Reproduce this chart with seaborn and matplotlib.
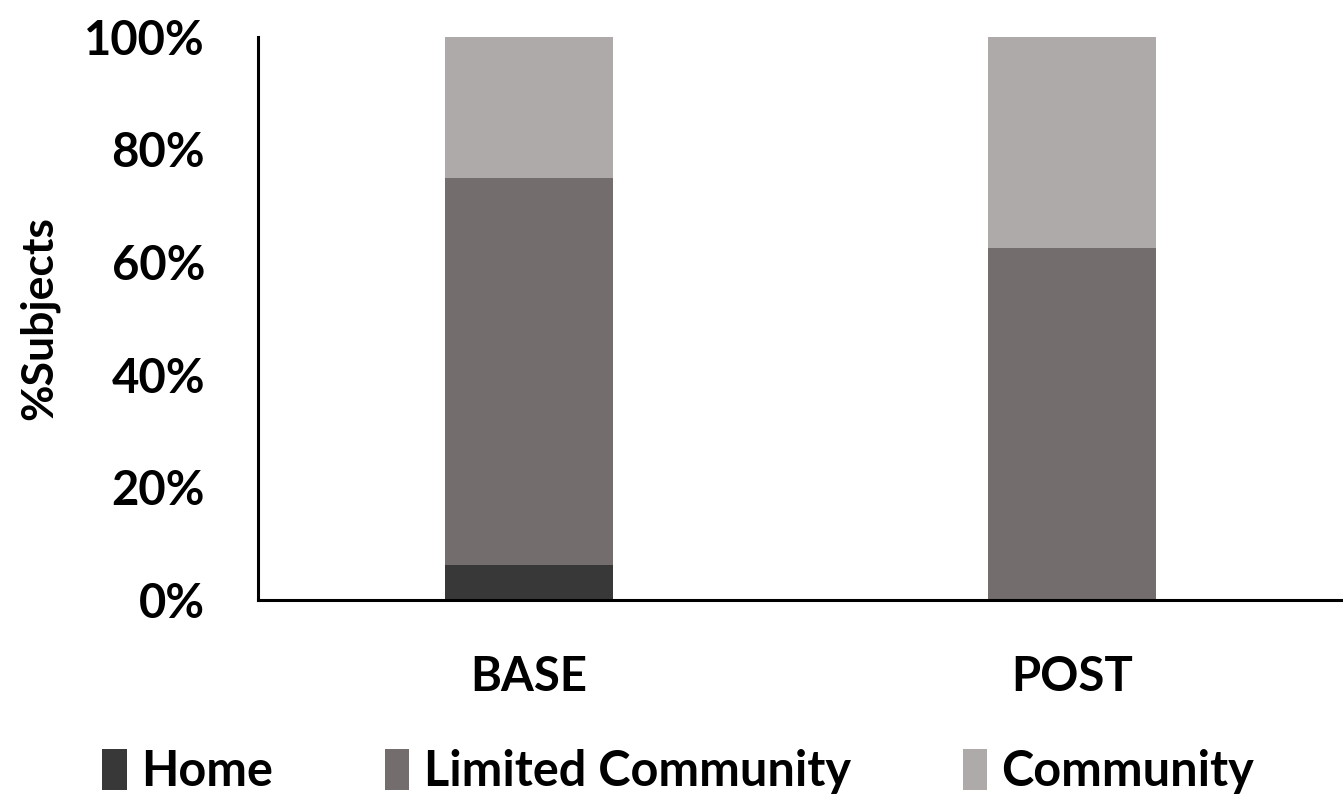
import matplotlib
matplotlib.use("Agg")
import matplotlib.pyplot as plt
from matplotlib.patches import Patch
import seaborn as sns
import pandas as pd

# Share of subjects by life-space category at each time point (%)
timepoints = ["BASE", "POST"]
home = [6.25, 0.0]
limited_community = [68.75, 62.5]
community = [25.0, 37.5]

categories = ["Home", "Limited Community", "Community"]
colors = {"Home": "#383838", "Limited Community": "#736e6d", "Community": "#aeaaa9"}

sns.set_theme(style="white")
plt.rcParams["font.family"] = ["Lato", "DejaVu Sans"]
plt.rcParams["font.weight"] = "bold"
plt.rcParams["text.color"] = "black"
plt.rcParams["axes.labelcolor"] = "black"
plt.rcParams["xtick.color"] = "black"
plt.rcParams["ytick.color"] = "black"

df = pd.DataFrame({
    "timepoint": timepoints,
    "Home": home,
    "Limited Community": limited_community,
    "Community": community,
})

fig = plt.figure(figsize=(13.43, 8.02), dpi=100)
ax = fig.add_axes([0.192, 0.252, 0.808, 0.702])

# stacked bars: draw cumulative totals from the top segment down
bottom = [0.0] * len(timepoints)
stacks = []
for cat in categories:
    top = [b + v for b, v in zip(bottom, df[cat])]
    stacks.append((cat, top))
    bottom = top
for cat, top in reversed(stacks):
    sns.barplot(x=df["timepoint"], y=top, color=colors[cat], width=0.31,
                saturation=1, ax=ax, linewidth=0)

ax.set_ylim(0, 100)
ax.set_xlim(-0.5, 1.5)
ax.set_yticks([0, 20, 40, 60, 80, 100])
ax.set_yticklabels([f"{v}%" for v in [0, 20, 40, 60, 80, 100]])
ax.tick_params(axis="y", length=0, pad=38, labelsize=34)
ax.tick_params(axis="x", length=0, pad=40, labelsize=34)
ax.set_xlabel("")
ax.set_ylabel("%Subjects", fontsize=32, fontweight="bold", labelpad=18)

for side in ["top", "right"]:
    ax.spines[side].set_visible(False)
for side in ["left", "bottom"]:
    ax.spines[side].set_color("black")
    ax.spines[side].set_linewidth(2.2)

handles = [Patch(facecolor=colors[c], edgecolor="none", label=c) for c in categories]
fig.legend(handles=handles, loc="lower center", bbox_to_anchor=(0.505, -0.045), ncol=3,
           frameon=False, fontsize=35, handlelength=0.5, handleheight=0.9,
           handletextpad=0.3, columnspacing=2.3)

fig.savefig("out.png", dpi=100)
